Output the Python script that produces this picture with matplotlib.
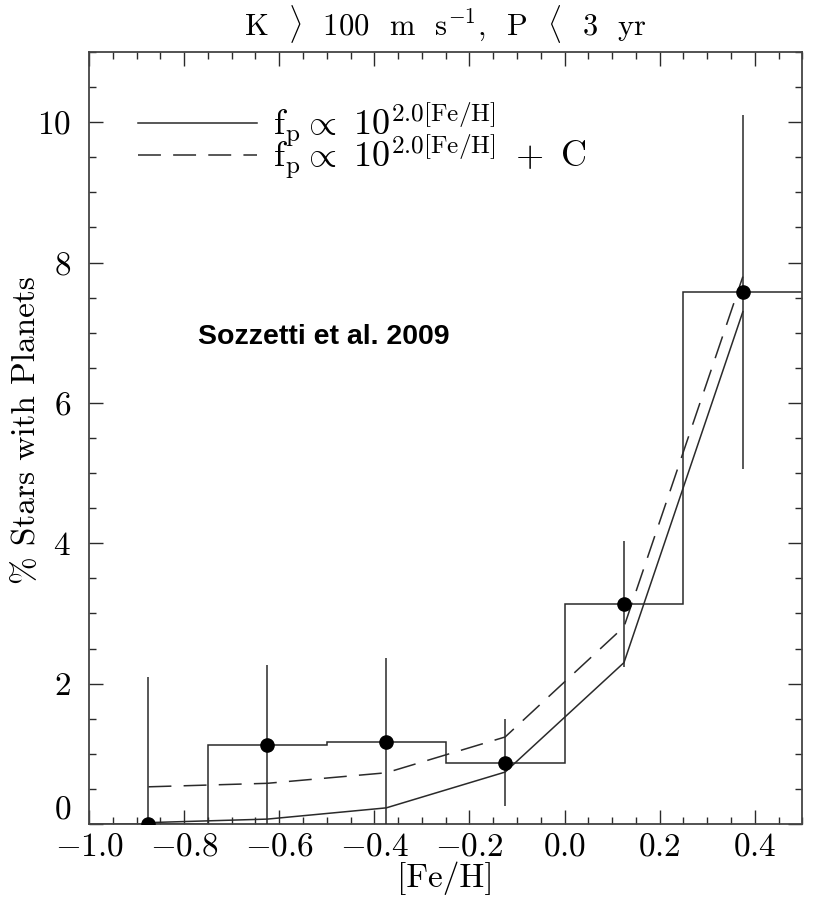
import numpy as np
import matplotlib
matplotlib.use("Agg")
import matplotlib.pyplot as plt
from matplotlib.ticker import MultipleLocator

plt.rcParams['font.family'] = ['cmr10', 'DejaVu Serif']
plt.rcParams['mathtext.fontset'] = 'cm'
plt.rcParams['axes.formatter.use_mathtext'] = True
plt.rcParams['axes.unicode_minus'] = True

# metallicity bins and planet occurrence (percent)
bin_edges = [-1.0, -0.75, -0.5, -0.25, 0.0, 0.25, 0.5]
feh = [-0.875, -0.625, -0.375, -0.125, 0.125, 0.375]
pct = [0.0, 1.13, 1.17, 0.87, 3.13, 7.58]
err_low = [0.0, 0.0, 0.0, 0.26, 2.24, 5.06]
err_high = [2.09, 2.27, 2.36, 1.50, 4.03, 10.10]

# fitted models evaluated at bin centres
fit_power = [0.02, 0.07, 0.23, 0.74, 2.30, 7.30]
fit_power_c = [0.53, 0.58, 0.73, 1.24, 2.81, 7.80]

ink = '#2a2a2a'

fig = plt.figure(figsize=(8.17, 9.08), dpi=100)
ax = fig.add_axes([0.109, 0.0925, 0.873, 0.8502])

ax.stairs(pct, bin_edges, baseline=None, color=ink, lw=1.1)

yerr = [np.array(pct) - np.array(err_low), np.array(err_high) - np.array(pct)]
ax.errorbar(feh, pct, yerr=yerr, fmt='o', color='black', ecolor=ink,
            elinewidth=1.1, capsize=0, markersize=9.5, zorder=5)

ax.plot(feh, fit_power, color=ink, lw=1.1,
        label=r'$\mathrm{f_p} \propto\ 10^{2.0[\mathrm{Fe/H}]}$')
ax.plot(feh, fit_power_c, color=ink, lw=1.1, dashes=(15, 8),
        label=r'$\mathrm{f_p} \propto\ 10^{2.0[\mathrm{Fe/H}]}\ +\ \mathrm{C}$')

ax.legend(loc='upper left', frameon=False, fontsize=26, handlelength=3.3,
          handletextpad=0.45, labelspacing=-0.45, borderaxespad=0.95)

ax.text(-0.771, 6.84, 'Sozzetti et al. 2009', family='Liberation Sans',
        fontweight='bold', fontsize=20.5, va='baseline', ha='left')

ax.set_xlim(-1.0, 0.5)
ax.set_ylim(0, 11)
ax.xaxis.set_major_locator(MultipleLocator(0.2))
ax.xaxis.set_minor_locator(MultipleLocator(0.05))
ax.yaxis.set_major_locator(MultipleLocator(2))
ax.yaxis.set_minor_locator(MultipleLocator(0.5))
ax.tick_params(which='both', direction='in', top=True, right=True,
               colors=ink, labelcolor='black', labelsize=24, width=1.0)
ax.tick_params(which='major', length=10)
ax.tick_params(which='minor', length=5)
ax.tick_params(axis='x', which='major', pad=6)
ax.tick_params(axis='y', which='major', pad=13)
for sp in ax.spines.values():
    sp.set_linewidth(1.3)
    sp.set_color('#444444')

ax.set_xlabel('[Fe/H]', fontsize=24, labelpad=0)
ax.set_ylabel('% Stars with Planets', fontsize=24)
ax.yaxis.set_label_coords(-0.067, 0.51)
ax.set_title(r'K  $\rangle$  100  m  s$^{-1}$,  P  $\langle$  3  yr',
             fontsize=22, pad=12)

# lift the zero label clear of the x tick labels
fig.canvas.draw()
for t in ax.yaxis.get_major_ticks():
    if abs(t.get_loc()) < 1e-9:
        t.label1.set_verticalalignment('bottom')

fig.savefig('out.png', dpi=100)
